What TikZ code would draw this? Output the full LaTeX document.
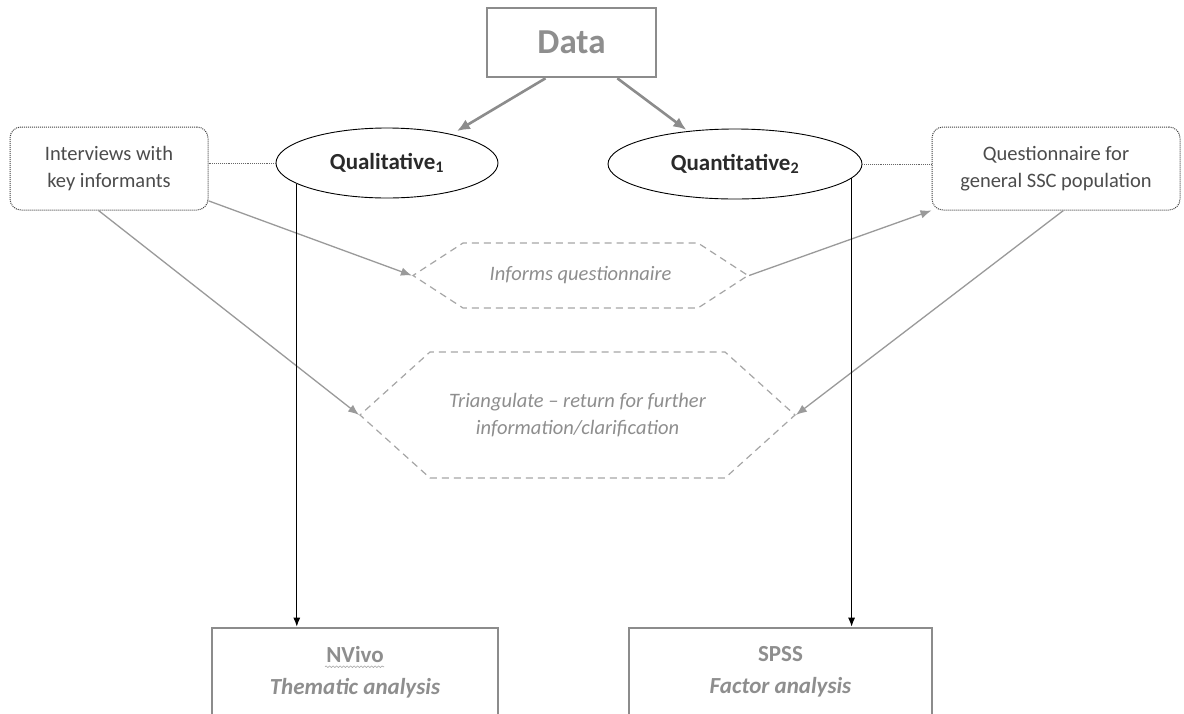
\documentclass[tikz,border=0pt]{standalone}
\usepackage{fontspec}
\setmainfont{Carlito}
\usepackage{tikz}
\usetikzlibrary{arrows.meta}
\usetikzlibrary{shapes.geometric}
\usetikzlibrary{shapes.symbols}
\usetikzlibrary{decorations.pathmorphing}

\definecolor{boxgray}{HTML}{8C8C8C}
\definecolor{textgray}{HTML}{8E8E8E}
\definecolor{dashgray}{HTML}{A6A6A6}
\definecolor{linegray}{HTML}{9A9A9A}
\definecolor{darktext}{HTML}{2A2A2A}

\begin{document}
\begin{tikzpicture}[x=1pt, y=-1pt, every edge/.style={draw,solid}, >={Latex[length=11pt,width=8.5pt]},
                    every node/.style={font=\fontsize{20.5}{27}\selectfont, align=center},
                    grayframe/.style={draw=boxgray, line width=2.6pt, text=textgray},
                    method/.style={ellipse, draw=black, line width=0.9pt, minimum height=70pt,
                                   text=darktext, font=\fontsize{23}{27}\selectfont\bfseries},
                    source/.style={draw=black!75, densely dotted, line width=1pt,
                                   rounded corners=11pt, minimum height=83pt, text=black!70},
                    link/.style={signal, signal to=west and east, draw=dashgray,
                                 dash pattern=on 7pt off 5pt, line width=1.2pt, text=textgray,
                                 font=\fontsize{20.5}{27}\selectfont\itshape}]

\path[use as bounding box, fill=white] (0,0) rectangle (1184,713);

\node[grayframe, minimum width=169pt, minimum height=69pt,
      font=\fontsize{35}{40}\selectfont\bfseries] (data) at (571.5,42.5) {Data};

\node[method, minimum width=222pt] (qual) at (387,163) {Qualitative\textsubscript{1}};
\node[method, minimum width=254pt] (quan) at (735,164) {Quantitative\textsubscript{2}};

\node[source, minimum width=198pt] (interv) at (109,168.5) {Interviews with\\key informants};
\node[source, minimum width=248pt] (quest) at (1056,168.5) {Questionnaire for\\general SSC population};

\node[link, minimum width=335pt, minimum height=65pt, signal pointer angle=66]
      (informs) at (580.5,275.5) {Informs questionnaire};
\node[link, minimum width=435pt, minimum height=126pt, signal pointer angle=84]
      (triang) at (577.5,415) {Triangulate -- return for further\\information/clarification};

\node[grayframe, minimum width=286pt, minimum height=88pt,
      font=\fontsize{23}{32}\selectfont\bfseries] (nvivo) at (355,672)
      {NVivo\\\textit{Thematic analysis}};
\node[grayframe, minimum width=303pt, minimum height=88pt,
      font=\fontsize{23}{32}\selectfont\bfseries] (spss) at (780.5,672)
      {SPSS\\\textit{Factor analysis}};

% wavy mark under NVivo
\draw[black!35, line width=0.6pt, decorate, decoration={snake, amplitude=0.8pt, segment length=3.5pt}]
  ([xshift=-30pt, yshift=-40pt]nvivo.north) -- ([xshift=29pt, yshift=-40pt]nvivo.north);

\path[-{Latex[length=13pt,width=11pt]}, boxgray, line width=2.6pt]
(data.234) edge [shorten >=6pt] (qual.24)
(data.322) edge [shorten >=2pt] (quan.145);

\path[black!60, line width=0.9pt]
(interv.east |- qual.west) edge [densely dotted] (qual.west)
(quan.east) edge [densely dotted] (quan.east -| quest.west);

\path[->, linegray, line width=1.3pt]
(interv.342) edge (informs.west)
(informs.east) edge (quest.south west)
(interv.256) edge (triang.west)
(quest.280) edge (triang.east);

\path[-{Latex[length=9pt,width=7pt]}, black, line width=1.1pt]
(qual.193) edge (qual.193 |- nvivo.north)
(quan.353) edge (quan.353 |- spss.north);
\end{tikzpicture}
\end{document}
